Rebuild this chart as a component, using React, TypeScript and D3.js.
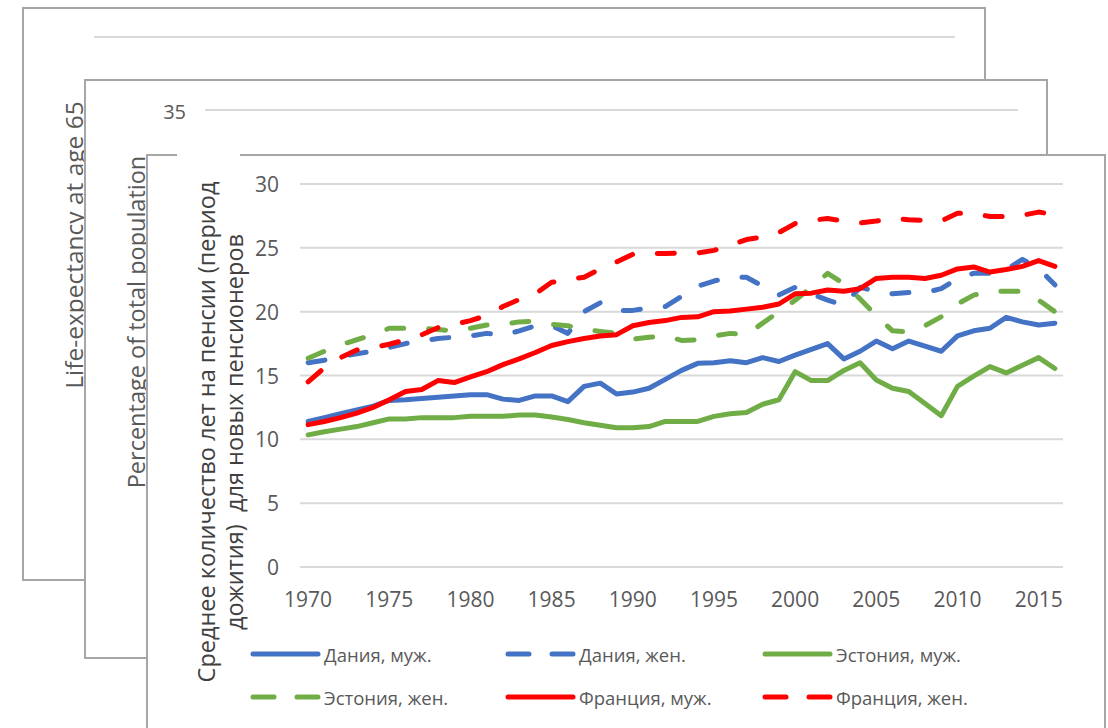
import React from "react";
import * as d3 from "d3";

const years: number[] = d3.range(1970, 2017);

const denM = [11.4, 11.7, 12.0, 12.3, 12.6, 13.05, 13.1, 13.2, 13.3, 13.4, 13.5, 13.5, 13.15, 13.05, 13.4, 13.4, 12.95, 14.15, 14.4, 13.55, 13.7, 14.0, 14.7, 15.4, 15.95, 16.0, 16.15, 16.0, 16.4, 16.1, 16.6, 17.05, 17.5, 16.3, 16.9, 17.7, 17.1, 17.7, 17.3, 16.9, 18.1, 18.5, 18.7, 19.55, 19.2, 18.95, 19.1];
const denF = [16.0, 16.2, 16.5, 16.7, 16.9, 17.2, 17.5, 17.7, 17.9, 18.0, 18.1, 18.3, 18.15, 18.5, 18.9, 18.9, 18.3, 20.0, 20.7, 20.1, 20.1, 20.3, 20.4, 21.2, 22.0, 22.4, 22.7, 22.7, 22.0, 21.3, 21.9, 21.4, 20.9, 20.5, 21.9, 21.6, 21.4, 21.5, 21.5, 21.8, 22.6, 23.0, 23.0, 23.3, 24.1, 23.4, 22.1];
const estM = [10.35, 10.6, 10.8, 11.0, 11.3, 11.6, 11.6, 11.7, 11.7, 11.7, 11.8, 11.8, 11.8, 11.9, 11.9, 11.75, 11.55, 11.3, 11.1, 10.9, 10.9, 11.0, 11.4, 11.4, 11.4, 11.8, 12.0, 12.1, 12.75, 13.1, 15.3, 14.6, 14.6, 15.4, 16.0, 14.65, 14.0, 13.75, 12.8, 11.85, 14.15, 14.95, 15.7, 15.2, 15.8, 16.4, 15.55];
const estF = [16.35, 16.9, 17.4, 17.8, 18.2, 18.7, 18.7, 18.7, 18.6, 18.5, 18.7, 18.95, 19.0, 19.2, 19.25, 19.0, 18.9, 18.6, 18.45, 18.3, 17.85, 18.0, 18.1, 17.75, 17.8, 18.1, 18.3, 18.2, 19.1, 20.0, 20.9, 21.9, 23.0, 22.2, 21.0, 19.7, 18.5, 18.4, 18.9, 19.6, 20.6, 21.3, 21.6, 21.6, 21.6, 20.9, 20.0];
const frM = [11.15, 11.4, 11.7, 12.05, 12.5, 13.1, 13.75, 13.9, 14.6, 14.45, 14.9, 15.3, 15.85, 16.3, 16.8, 17.35, 17.65, 17.9, 18.1, 18.2, 18.9, 19.15, 19.3, 19.55, 19.6, 20.0, 20.05, 20.2, 20.35, 20.6, 21.4, 21.45, 21.7, 21.6, 21.8, 22.6, 22.7, 22.7, 22.6, 22.85, 23.35, 23.5, 23.1, 23.3, 23.55, 24.0, 23.55];
const frF = [14.5, 15.6, 16.4, 17.0, 17.2, 17.45, 17.8, 18.2, 18.75, 19.0, 19.3, 19.7, 20.4, 20.95, 21.4, 22.3, 22.5, 22.7, 23.35, 23.9, 24.5, 24.55, 24.55, 24.6, 24.6, 24.8, 25.2, 25.65, 25.85, 26.2, 26.9, 27.15, 27.3, 27.1, 26.95, 27.1, 27.3, 27.2, 27.15, 27.1, 27.7, 27.7, 27.45, 27.45, 27.55, 27.8, 27.6];

const seriesNames = ["Дания, муж.", "Дания, жен.", "Эстония, муж.", "Эстония, жен.", "Франция, муж.", "Франция, жен."];
const seriesValues = [denM, denF, estM, estF, frM, frF];
const seriesColors = ["#4472C4", "#4472C4", "#70AD47", "#70AD47", "#FF0000", "#FF0000"];
const seriesDashed = [false, true, false, true, false, true];

const yTicks = [0, 5, 10, 15, 20, 25, 30];
const xTickYears = [1970, 1975, 1980, 1985, 1990, 1995, 2000, 2005, 2010, 2015];

const titleLine1 = "Среднее количество лет на пенсии (период";
const titleLine2 = "дожития)\u00a0 для новых пенсионеров";
const backTitle1 = "Life-expectancy at age 65";
const backTitle2 = "Percentage of total population";
const backTick2 = "35";

const FONT = "'Open Sans', 'Segoe UI', sans-serif";
const TXT = "#595959";
const GRID = "#d9d9d9";
const BORDER = "#a6a6a6";

export default function App() {
  const x = d3.scaleLinear().domain([1969.5, 2016.5]).range([300, 1063]);
  const y = d3.scaleLinear().domain([0, 30]).range([567, 184]);
  const line = d3
    .line<number>()
    .x((_, i) => x(years[i]))
    .y((v) => y(v));

  const legendCols = [251, 506, 763];
  const legendRows = [654, 697];

  return (
    <svg
      width={1108}
      height={728}
      style={{ position: "absolute", left: 0, top: 0, background: "#fff" }}
    >
      {/* back card 1 */}
      <rect x={23} y={8} width={962} height={572} fill="#fff" stroke={BORDER} strokeWidth={2} />
      <line x1={94} x2={955} y1={37} y2={37} stroke={GRID} strokeWidth={2} />
      <text
        transform="translate(83,245) rotate(-90)"
        textAnchor="middle"
        fontFamily={FONT}
        fontSize={24.5}
        fill={TXT}
      >
        {backTitle1}
      </text>

      {/* back card 2 */}
      <rect x={85} y={80} width={962} height={578} fill="#fff" stroke={BORDER} strokeWidth={2} />
      <line x1={205} x2={1018} y1={110} y2={110} stroke={GRID} strokeWidth={2} />
      <text x={186} y={111} textAnchor="end" dominantBaseline="central" fontFamily={FONT} fontSize={20} fill={TXT}>
        {backTick2}
      </text>
      <text
        transform="translate(145,322) rotate(-90)"
        textAnchor="middle"
        fontFamily={FONT}
        fontSize={23.5}
        fill={TXT}
      >
        {backTitle2}
      </text>

      {/* front card */}
      <rect x={147} y={155} width={958} height={600} fill="#fff" stroke="none" />
      <path
        d="M177,155 H147 V740 M240,155 H1105 V740"
        fill="none"
        stroke={BORDER}
        strokeWidth={2}
      />

      {/* gridlines + y ticks */}
      {yTicks.map((t) => (
        <g key={t}>
          <line x1={300} x2={1063} y1={y(t)} y2={y(t)} stroke={GRID} strokeWidth={2} />
          <text
            x={279}
            y={y(t)}
            textAnchor="end"
            dominantBaseline="central"
            fontFamily={FONT}
            fontSize={21}
            fill={TXT}
          >
            {t}
          </text>
        </g>
      ))}

      {/* x ticks */}
      {xTickYears.map((yr) => (
        <text
          key={yr}
          x={x(yr)}
          y={607}
          textAnchor="middle"
          fontFamily={FONT}
          fontSize={21}
          fill={TXT}
        >
          {yr}
        </text>
      ))}

      {/* y title */}
      <text
        transform="translate(215,432) rotate(-90)"
        textAnchor="middle"
        fontFamily={FONT}
        fontSize={23.5}
        fill="#404040"
      >
        {titleLine1}
      </text>
      <text
        transform="translate(243,432) rotate(-90)"
        textAnchor="middle"
        fontFamily={FONT}
        fontSize={23.5}
        fill="#404040"
      >
        {titleLine2}
      </text>

      {/* series */}
      {seriesValues.map((vals, i) => (
        <path
          key={i}
          d={line(vals) || ""}
          fill="none"
          stroke={seriesColors[i]}
          strokeWidth={5}
          strokeLinejoin="round"
          strokeLinecap="round"
          strokeDasharray={seriesDashed[i] ? "17 25" : undefined}
        />
      ))}

      {/* legend */}
      {seriesNames.map((name, i) => {
        const cx = legendCols[i % 3];
        const cy = legendRows[Math.floor(i / 3)];
        return (
          <g key={name}>
            <line
              x1={cx + 2}
              x2={cx + 67}
              y1={cy}
              y2={cy}
              stroke={seriesColors[i]}
              strokeWidth={5}
              strokeLinecap="round"
              strokeDasharray={seriesDashed[i] ? "21 23" : undefined}
            />
            <text
              x={cx + 73}
              y={cy}
              dominantBaseline="central"
              fontFamily={FONT}
              fontSize={18.5}
              fill={TXT}
            >
              {name}
            </text>
          </g>
        );
      })}
    </svg>
  );
}
